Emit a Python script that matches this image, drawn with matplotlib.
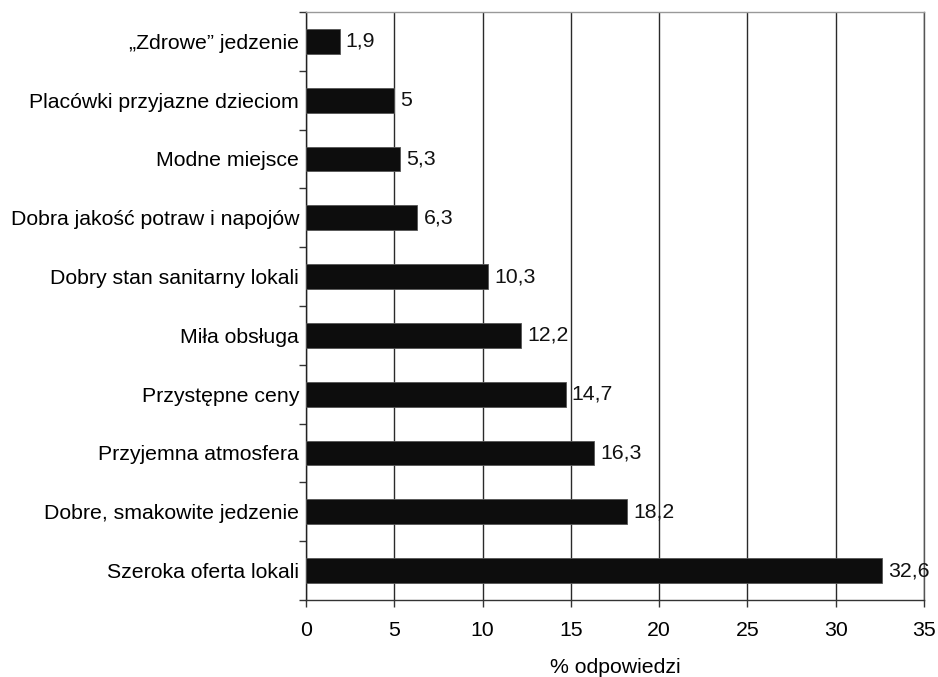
import matplotlib
matplotlib.use("Agg")
import matplotlib.pyplot as plt
from matplotlib.ticker import FixedLocator, NullFormatter

plt.rcParams['font.family'] = ['Liberation Sans', 'DejaVu Sans']

categories = [
    "Szeroka oferta lokali",
    "Dobre, smakowite jedzenie",
    "Przyjemna atmosfera",
    "Przystępne ceny",
    "Miła obsługa",
    "Dobry stan sanitarny lokali",
    "Dobra jakość potraw i napojów",
    "Modne miejsce",
    "Placówki przyjazne dzieciom",
    "\u201eZdrowe\u201d jedzenie",
]
values = [32.6, 18.2, 16.3, 14.7, 12.2, 10.3, 6.3, 5.3, 5.0, 1.9]
value_labels = ["32,6", "18,2", "16,3", "14,7", "12,2", "10,3", "6,3", "5,3", "5", "1,9"]
xticks = [0, 5, 10, 15, 20, 25, 30, 35]

FS = 15.3

fig = plt.figure(figsize=(9.38, 6.77), dpi=100)
ax = fig.add_axes([306 / 938, 1 - 600 / 677, 618 / 938, 588 / 677])

ypos = list(range(len(categories)))
ax.barh(ypos, values, height=0.42, color='#0d0d0d', edgecolor='#555555', linewidth=0.6, zorder=3)

for y, v, lab in zip(ypos, values, value_labels):
    ax.text(v + 0.35, y, lab, va='center', ha='left', fontsize=FS, color='#111111')

ax.set_xlim(0, 35)
ax.set_ylim(-0.5, len(categories) - 0.5)

ax.xaxis.set_major_locator(FixedLocator(xticks))
ax.set_xticklabels([str(t) for t in xticks], fontsize=FS)
ax.tick_params(axis='x', direction='out', length=5, width=1, color='#333333', pad=10)

ax.set_yticks(ypos)
ax.set_yticklabels(categories, fontsize=FS)
ax.tick_params(axis='y', which='major', length=0, pad=5)
ax.yaxis.set_minor_locator(FixedLocator([y - 0.5 for y in range(len(categories) + 1)]))
ax.yaxis.set_minor_formatter(NullFormatter())
ax.tick_params(axis='y', which='minor', direction='out', length=5, width=1, color='#333333')

ax.grid(axis='x', color='#2a2a2a', linewidth=1, zorder=0)
ax.set_axisbelow(True)

ax.spines['left'].set_color('#222222')
ax.spines['bottom'].set_color('#333333')
ax.spines['top'].set_color('#999999')
ax.spines['right'].set_color('#555555')
for s in ax.spines.values():
    s.set_linewidth(1)

ax.set_xlabel("% odpowiedzi", fontsize=FS, labelpad=13)

fig.savefig("out.png", dpi=100, facecolor='white')
